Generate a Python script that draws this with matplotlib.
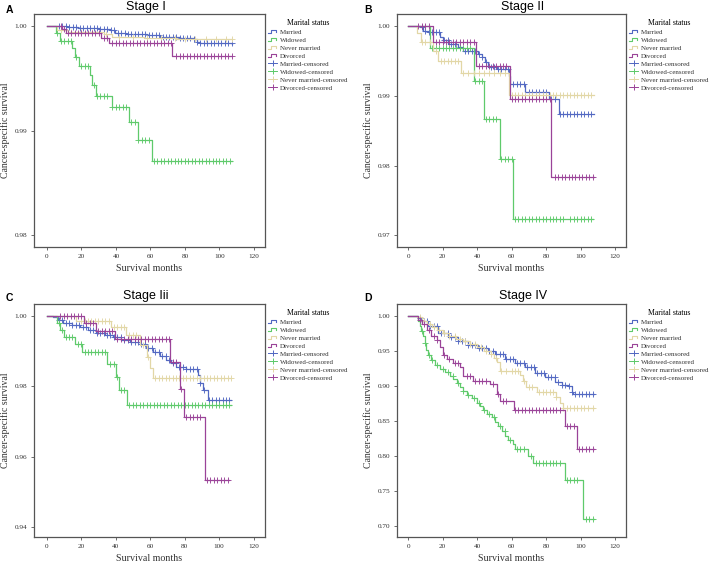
import matplotlib
matplotlib.use('Agg')
import matplotlib.pyplot as plt
import numpy as np
from matplotlib.lines import Line2D
from matplotlib.legend_handler import HandlerBase

plt.rcParams['font.family'] = ['Liberation Serif', 'DejaVu Serif']

groups = ['Married', 'Widowed', 'Never married', 'Divorced']
colors = ['#5268c2', '#5fca6b', '#e2d7a6', '#9a4398']

# ---- Stage I ----
a_married_t = [0, 11.6, 18, 25, 30, 36.7, 39.6, 46, 58, 65.6, 77, 85, 87, 88.7, 107.5]
a_married_s = [1, .99992, .99985, .99978, .9997, .99962, .99936, .99923, .99911, .99898, .99882, .99872, .9985, .99834, .99826]
a_married_c = [7, 9, 11, 13, 15, 17, 19, 21, 23, 25, 27, 29, 31, 33, 35, 37, 39, 41, 43, 45, 47, 49, 51, 53, 55,
               57, 59, 61, 63, 65, 67, 69, 71, 73, 75, 77, 79, 81, 83, 85, 87, 89, 91, 93, 95, 97, 99, 101, 103, 105, 107]
a_widowed_t = [0, 5.2, 7.3, 14.5, 16.4, 18.7, 24.7, 26.2, 28.4, 37.8, 47.7, 53, 60.8, 107]
a_widowed_s = [1, .99936, .9986, .99786, .99706, .9962, .9953, .99435, .99335, .99224, .99086, .98914, .98712, .98712]
a_widowed_c = [6, 8, 10, 12, 14, 17, 20, 22, 24, 27, 29, 31, 33, 35, 38, 40, 42, 44, 46, 49, 51, 53, 55, 57, 59,
               62, 64, 66, 68, 70, 72, 74, 76, 78, 80, 82, 84, 86, 88, 90, 92, 94, 96, 98, 100, 102, 104, 106]
a_never_t = [0, 6, 12, 33, 38, 56, 75, 107.5]
a_never_s = [1, .99965, .9994, .9992, .99895, .99885, .99875, .99875]
a_never_c = [8, 14, 20, 26, 34, 42, 50, 58, 66, 74, 80, 86, 92, 98, 104, 107]
a_divorced_t = [0, 9, 11, 31.3, 36.1, 72.7, 107]
a_divorced_s = [1, .9997, .9993, .99885, .99834, .99709, .99709]
a_divorced_c = [8, 10, 12, 14, 16, 18, 20, 22, 24, 26, 28, 30, 33, 35, 38, 40, 42, 44, 46, 48, 50, 52, 54, 56, 58,
                60, 62, 64, 66, 68, 70, 72, 75, 77, 79, 81, 83, 85, 87, 89, 91, 93, 95, 97, 99, 101, 103, 105, 107]

# ---- Stage II ----
b_married_t = [0, 7, 8.9, 11.8, 18.6, 20.5, 23.4, 29.2, 32.1, 40.8, 42.8, 44.7, 46.6, 51.5, 58.3, 59.2, 67.9,
               81.5, 87.3, 107.6]
b_married_s = [1, .99981, .99933, .99909, .99837, .99799, .99742, .99694, .99646, .99598, .9955, .99478, .99416,
               .99383, .99287, .99167, .99057, .98952, .98737, .98737]
b_married_c = [8, 10, 12, 14, 16, 18, 21, 23, 25, 27, 30, 33, 35, 37, 39, 41, 43, 45, 48, 50, 52, 54, 56, 58, 61,
               63, 65, 67, 70, 72, 74, 76, 78, 80, 83, 85, 88, 90, 92, 94, 96, 98, 100, 102, 104, 106]
b_widowed_t = [0, 12.8, 38.3, 44.1, 53, 60.8, 107]
b_widowed_s = [1, .9968, .99213, .9867, .9809, .9723, .9723]
b_widowed_c = [14, 16, 18, 20, 22, 24, 26, 28, 30, 32, 34, 36, 39, 41, 43, 45, 47, 49, 51, 54, 56, 58, 60, 62,
               64, 66, 68, 70, 72, 74, 76, 78, 80, 82, 84, 86, 88, 90, 94, 96, 98, 100, 102, 104, 106]
b_never_t = [0, 5, 7.7, 14.5, 17.5, 30.5, 58.3, 107.6]
b_never_s = [1, .999, .99766, .9964, .995, .9933, .9901, .9901]
b_never_c = [8, 10, 13, 16, 19, 21, 23, 25, 27, 29, 32, 35, 38, 41, 44, 47, 50, 53, 56, 60, 62, 64, 66, 68, 70,
             72, 74, 76, 78, 80, 82, 84, 86, 88, 90, 92, 94, 96, 98, 100, 102, 104, 106]
b_divorced_t = [0, 14.7, 39.5, 58.8, 82.8, 107.6]
b_divorced_s = [1, .99766, .99431, .98952, .97837, .97837]
b_divorced_c = [6, 8, 10, 12, 16, 18, 20, 22, 24, 26, 28, 30, 32, 34, 36, 38, 41, 43, 45, 47, 49, 51, 53, 55, 57,
                60, 62, 64, 66, 68, 70, 72, 74, 76, 78, 80, 82, 85, 87, 89, 91, 93, 95, 97, 99, 101, 103, 105, 107]

# ---- Stage Iii ----
c_married_t = [0, 3.9, 6.8, 9.6, 14.5, 19.3, 24.1, 28.9, 33.8, 38.6, 43.4, 48.2, 54, 57.9, 61.7, 65.6, 69.5,
               72.4, 75.2, 81, 87.8, 88.7, 90.7, 93.6, 107]
c_married_s = [1, .9996, .99886, .9981, .99744, .99678, .99602, .99526, .9946, .99393, .99318, .9927, .99204,
               .99081, .98986, .98863, .98749, .98654, .9854, .98483, .98322, .98085, .97896, .97611, .97611]
c_married_c = [7, 9, 11, 13, 15, 17, 19, 21, 23, 25, 27, 29, 31, 33, 35, 37, 39, 41, 43, 45, 47, 49, 51, 53, 55,
               57, 59, 61, 63, 65, 67, 69, 71, 73, 75, 77, 79, 81, 83, 85, 87, 89, 91, 94, 96, 98, 100, 102, 104, 106]
c_widowed_t = [0, 6.2, 7.7, 10.2, 16.6, 20.6, 35.3, 40, 41.9, 46.7, 107]
c_widowed_s = [1, .9981, .996, .99412, .99194, .98967, .98626, .98256, .97905, .97479, .97479]
c_widowed_c = [7, 9, 11, 13, 15, 18, 20, 22, 24, 26, 28, 30, 32, 34, 37, 39, 41, 43, 45, 48, 50, 52, 54, 56, 58,
               60, 62, 64, 66, 68, 70, 72, 74, 76, 78, 80, 82, 84, 86, 88, 90, 92, 94, 96, 98, 100, 102, 104, 106]
c_never_t = [0, 17, 37.6, 46.1, 54, 58, 60, 61.7, 107]
c_never_s = [1, .99858, .99697, .9946, .99175, .98844, .98512, .98227, .98227]
c_never_c = [20, 22, 24, 26, 28, 30, 32, 34, 36, 39, 41, 43, 45, 48, 50, 52, 56, 59, 63, 65, 67, 69, 71, 73, 75,
             77, 79, 81, 83, 85, 87, 89, 91, 93, 95, 97, 99, 101, 103, 105, 107]
c_divorced_t = [0, 21.8, 28.9, 39.6, 71.8, 77.2, 79.5, 91.6, 106]
c_divorced_s = [1, .9981, .99583, .99346, .98701, .9792, .9714, .9534, .9534]
c_divorced_c = [8, 10, 12, 14, 16, 18, 20, 23, 25, 27, 30, 32, 34, 36, 38, 41, 43, 45, 47, 49, 51, 53, 55, 57,
                59, 61, 63, 65, 67, 69, 71, 73, 75, 78, 81, 83, 85, 87, 89, 93, 95, 97, 99, 101, 103, 105]

# ---- Stage IV ----
d_married_t = [0, 5.8, 7.7, 11.6, 17.4, 23.2, 29, 34.8, 40.6, 46.4, 50.3, 56.1, 61.9, 67.7, 73.5, 79.3, 85.2,
               89, 92.9, 94.8, 95.8, 107.6]
d_married_s = [1, .997, .9919, .9847, .9752, .9694, .9642, .9585, .9537, .9499, .9456, .9384, .9322, .9265,
               .9179, .9121, .9059, .9012, .8997, .8916, .8878, .8878]
d_married_c = [7, 9, 11, 13, 15, 17, 19, 21, 23, 25, 27, 29, 31, 33, 35, 37, 39, 41, 43, 45, 47, 49, 51, 53, 55,
               57, 59, 61, 63, 65, 67, 69, 71, 73, 75, 77, 79, 81, 83, 85, 87, 89, 91, 93, 95, 97, 99, 101, 103, 105, 107]
d_widowed_t = [0, 5.8, 6.8, 7.7, 8.7, 9.7, 10.6, 11.6, 13.2, 15.5, 18.4, 21.3, 24.2, 26.1, 28.1, 30, 31.9, 33.9,
               36.8, 39.7, 41.6, 43.5, 45.5, 48.4, 50.3, 52.3, 54.2, 56.1, 58.1, 61, 62, 69.7, 72.6, 91, 101.6, 107.6]
d_widowed_s = [1, .992, .9847, .9776, .9704, .9608, .9513, .9441, .937, .9298, .9245, .9195, .914, .909, .9045,
               .8985, .893, .887, .882, .876, .8705, .865, .8595, .856, .849, .842, .836, .829, .8233, .8166, .8104,
               .7999, .7899, .765, .7096, .7096]
d_widowed_c = [8, 10, 12, 14, 17, 20, 23, 26, 29, 32, 35, 38, 41, 44, 47, 50, 53, 56, 59, 63, 65, 67, 71, 74, 76,
               78, 80, 82, 84, 86, 88, 92, 94, 96, 98, 103, 105, 107]
d_never_t = [0, 5, 8, 11, 14, 17, 20, 24, 28, 32, 36, 40, 44, 48, 50, 51.5, 53.4, 65, 66.5, 68.5, 74.5, 85.5,
             88, 90, 107.6]
d_never_s = [1, .998, .993, .988, .984, .979, .975, .971, .967, .964, .96, .955, .95, .946, .94, .9336, .9217,
             .9155, .907, .899, .8916, .8844, .8758, .868, .868]
d_never_c = [7, 9, 11, 13, 15, 18, 21, 24, 27, 30, 33, 36, 39, 42, 45, 48, 51, 54, 57, 60, 62, 64, 67, 70, 72,
             76, 78, 80, 82, 84, 86, 90, 92, 94, 96, 98, 100, 102, 104, 107]
d_divorced_t = [0, 5.8, 7.9, 10.8, 13.5, 16.6, 18.6, 20.5, 22.4, 26, 30.2, 32.1, 37.9, 47.6, 51.5, 53.4, 61.2,
                91.1, 97.9, 107.6]
d_divorced_s = [1, .9943, .9885, .979, .9704, .9647, .955, .9441, .9384, .933, .927, .9145, .9074, .9026, .8883,
                .8787, .8653, .843, .8095, .8095]
d_divorced_c = [7, 9, 12, 15, 17, 21, 24, 27, 29, 34, 36, 39, 41, 43, 45, 49, 52, 55, 57, 62, 64, 66, 68, 70, 72,
                74, 76, 78, 80, 82, 84, 86, 88, 92, 94, 96, 99, 101, 103, 105, 107]

x_ticks = [0, 20, 40, 60, 80, 100, 120]
a_yticks = [0.98, 0.99, 1.00]
b_yticks = [0.97, 0.98, 0.99, 1.00]
c_yticks = [0.94, 0.96, 0.98, 1.00]
d_yticks = [0.70, 0.75, 0.80, 0.85, 0.90, 0.95, 1.00]


class StepHandler(HandlerBase):
    # little KM-style step icon used by SPSS legends
    def create_artists(self, legend, orig, xd, yd, w, h, fontsize, trans):
        x0, y0 = -xd, -yd
        xs = [x0, x0 + 0.3 * w, x0 + 0.3 * w, x0 + 0.85 * w, x0 + 0.85 * w]
        ys = [y0 + 0.2 * h, y0 + 0.2 * h, y0 + 0.8 * h, y0 + 0.8 * h, y0 + 0.45 * h]
        ln = Line2D(xs, ys, color=orig.get_color(), lw=0.8, transform=trans)
        return [ln]


def draw_curve(ax, t, s, cens, color):
    t = np.asarray(t)
    s = np.asarray(s)
    ax.step(t, s, where='post', color=color, lw=0.9)
    idx = np.searchsorted(t, cens, side='right') - 1
    ax.plot(cens, s[idx], ls='none', marker='+', ms=3.8, mew=0.65, color=color)


fig = plt.figure(figsize=(7.09, 5.62), dpi=100)

panels = [
    ('A', 'Stage I', [0.04795, 0.5605, 0.32581, 0.41459], (-7.5, 126.4), (0.97888, 1.00115), a_yticks,
     [(a_married_t, a_married_s, a_married_c), (a_widowed_t, a_widowed_s, a_widowed_c),
      (a_never_t, a_never_s, a_never_c), (a_divorced_t, a_divorced_s, a_divorced_c)]),
    ('B', 'Stage II', [0.55994, 0.5605, 0.32299, 0.41459], (-6.4, 126.3), (0.96833, 1.00172), b_yticks,
     [(b_married_t, b_married_s, b_married_c), (b_widowed_t, b_widowed_s, b_widowed_c),
      (b_never_t, b_never_s, b_never_c), (b_divorced_t, b_divorced_s, b_divorced_c)]),
    ('C', 'Stage Iii', [0.04795, 0.04448, 0.32581, 0.41459], (-7.3, 126.6), (0.93716, 1.0034), c_yticks,
     [(c_married_t, c_married_s, c_married_c), (c_widowed_t, c_widowed_s, c_widowed_c),
      (c_never_t, c_never_s, c_never_c), (c_divorced_t, c_divorced_s, c_divorced_c)]),
    ('D', 'Stage IV', [0.55994, 0.04448, 0.32299, 0.41459], (-6.4, 126.3), (0.6843, 1.0167), d_yticks,
     [(d_married_t, d_married_s, d_married_c), (d_widowed_t, d_widowed_s, d_widowed_c),
      (d_never_t, d_never_s, d_never_c), (d_divorced_t, d_divorced_s, d_divorced_c)]),
]

for letter, title, rect, xlim, ylim, yticks, curves in panels:
    ax = fig.add_axes(rect)
    for (t, s, c), col in zip(curves, colors):
        draw_curve(ax, t, s, c, col)
    ax.set_xlim(*xlim)
    ax.set_ylim(*ylim)
    ax.set_xticks(x_ticks)
    ax.set_yticks(yticks)
    ax.set_yticklabels(['%.2f' % v for v in yticks])
    ax.tick_params(labelsize=5.2, length=2.5, width=0.6, color='#555555', pad=2.5, labelcolor='#333333')
    for sp in ax.spines.values():
        sp.set_color('#555555')
        sp.set_linewidth(0.9)
    ax.set_xlabel('Survival months', fontsize=7.2, color='#333333')
    ax.set_ylabel('Cancer-specific survival', fontsize=7.0, color='#333333')
    w_px = rect[2] * 709
    h_px = rect[3] * 562
    ax.yaxis.set_label_coords(-23.5 / w_px, 0.5)
    ax.xaxis.set_label_coords(0.5, -17 / h_px)

    # legend
    step_handles = [Line2D([], [], color=col) for col in colors]
    cens_handles = [Line2D([], [], color=col, lw=0.7, marker='+', ms=4, mew=0.7) for col in colors]
    labels = groups + [g + '-censored' for g in groups]
    hmap = {h: StepHandler() for h in step_handles}
    leg = ax.legend(step_handles + cens_handles, labels, handler_map=hmap, loc='upper left',
                    bbox_to_anchor=(1.0, 0.99), frameon=False, fontsize=5.0, title='Marital status',
                    title_fontsize=5.6, handlelength=1.4, handletextpad=0.4, labelspacing=0.3,
                    borderaxespad=0.2, borderpad=0.2)
    for txt in leg.get_texts():
        txt.set_color('#333333')

    # title and panel letter (baseline positions in pixels)
    cx = 146 if letter in 'AC' else 523
    ty = 10 if letter in 'AB' else 298.5
    fig.text(cx / 709, 1 - ty / 562, title, ha='center', va='baseline', fontsize=9,
             family=['Liberation Sans', 'DejaVu Sans'])
    lx = 9 if letter in 'AC' else 368
    ly = 13 if letter in 'AB' else 301
    fig.text(lx / 709, 1 - ly / 562, letter, ha='center', va='baseline', fontsize=7.5, fontweight='bold',
             family=['Liberation Sans', 'DejaVu Sans'])

fig.savefig('out.png', dpi=100)
